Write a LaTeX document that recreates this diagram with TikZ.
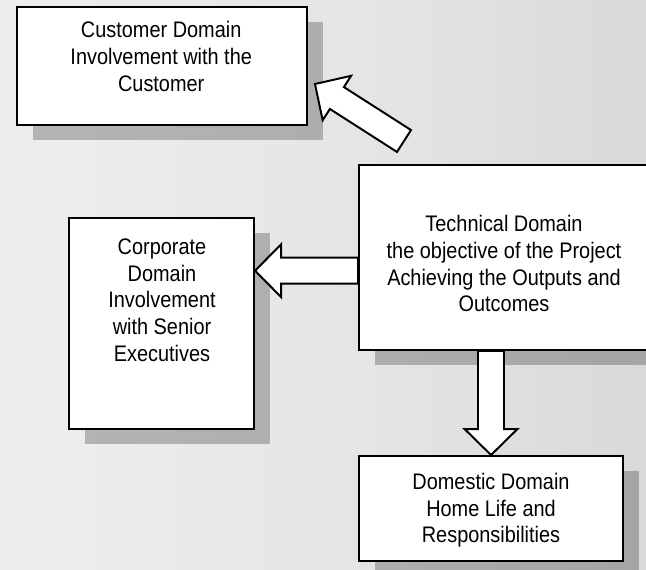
\documentclass[tikz,border=0pt]{standalone}
\usepackage{fontspec}
\setmainfont{Liberation Sans}[FakeStretch=0.885]
\usepackage{tikz}
\usetikzlibrary{calc}
\usetikzlibrary{shadows}
\pgfdeclarelayer{backlayer}
\pgfdeclarelayer{nodelayer}
\pgfdeclarelayer{edgelayer}
\pgfsetlayers{backlayer,nodelayer,edgelayer,main}
\definecolor{paperleft}{gray}{0.965}
\definecolor{papermid}{gray}{0.895}
\definecolor{paperright}{gray}{0.795}
\pgfdeclarehorizontalshading{paper}{100bp}{color(0bp)=(paperleft); color(55bp)=(papermid); color(100bp)=(paperright)}
\newcommand{\fatshaft}{0.325cm}
\newcommand{\fathead}{0.66cm}
\newcommand{\fatheadlen}{0.65cm}
\tikzstyle{none}=[inner sep=0pt]
\tikzstyle{domain box}=[draw=black, fill=white, line width=1.4pt, inner sep=0pt, drop shadow={shadow xshift=0.4cm, shadow yshift=-0.38cm, fill=black, opacity=0.24}]
\tikzstyle{domain text}=[align=center, inner sep=0pt, font=\fontsize{16pt}{19pt}\selectfont]
\tikzstyle{fat arrow}=[draw=black, fill=white, line width=1.4pt, line join=miter,
	to path={($(\tikztostart)!\fatshaft!90:(\tikztotarget)$)
		-- ($(\tikztotarget)!\fatheadlen!(\tikztostart)!\fatshaft!90:(\tikztotarget)$)
		-- ($(\tikztotarget)!\fatheadlen!(\tikztostart)!\fathead!90:(\tikztotarget)$)
		-- (\tikztotarget)
		-- ($(\tikztotarget)!\fatheadlen!(\tikztostart)!\fathead!-90:(\tikztotarget)$)
		-- ($(\tikztotarget)!\fatheadlen!(\tikztostart)!\fatshaft!-90:(\tikztotarget)$)
		-- ($(\tikztostart)!\fatshaft!-90:(\tikztotarget)$) -- cycle}]

\begin{document}
\begin{tikzpicture}
	\useasboundingbox (0, 0) rectangle (16.15, -14.225);
	\begin{pgfonlayer}{backlayer}
		\fill [shading=paper] (0, 0) rectangle (16.15, -14.225);
	\end{pgfonlayer}
	\begin{pgfonlayer}{nodelayer}
		\node [style=domain box, minimum width=7.26cm, minimum height=2.95cm] (0) at (4.044, -1.65) {};
		\node [style=domain box, minimum width=7.25cm, minimum height=4.625cm] (1) at (12.6, -6.4375) {};
		\node [style=domain box, minimum width=4.625cm, minimum height=5.275cm] (2) at (4.04, -8.0875) {};
		\node [style=domain box, minimum width=6.6cm, minimum height=2.625cm] (3) at (12.275, -12.7125) {};
		\node [style=domain text] (4) at (4.03, -1.41) {Customer Domain\\Involvement with the\\Customer};
		\node [style=domain text] (5) at (12.6, -6.59) {Technical Domain\\the objective of the Project\\Achieving the Outputs and\\Outcomes};
		\node [style=domain text] (6) at (4.05, -7.5) {Corporate\\Domain\\Involvement\\with Senior\\Executives};
		\node [style=domain text] (7) at (12.275, -12.76) {Domestic Domain\\Home Life and\\Responsibilities};
		\coordinate (8) at (10.1, -3.525);
		\coordinate (9) at (7.875, -2.1);
		\coordinate (10) at ([yshift=-0.33cm]1.west);
		\coordinate (11) at ([yshift=1.32cm]2.east);
		\coordinate (12) at (1.south -| 3.north);
	\end{pgfonlayer}
	\begin{pgfonlayer}{edgelayer}
		\draw [style=fat arrow] (8) to (9);
		\draw [style=fat arrow] (10) to (11);
		\draw [style=fat arrow] (12) to (3.north);
	\end{pgfonlayer}
\end{tikzpicture}
\end{document}
